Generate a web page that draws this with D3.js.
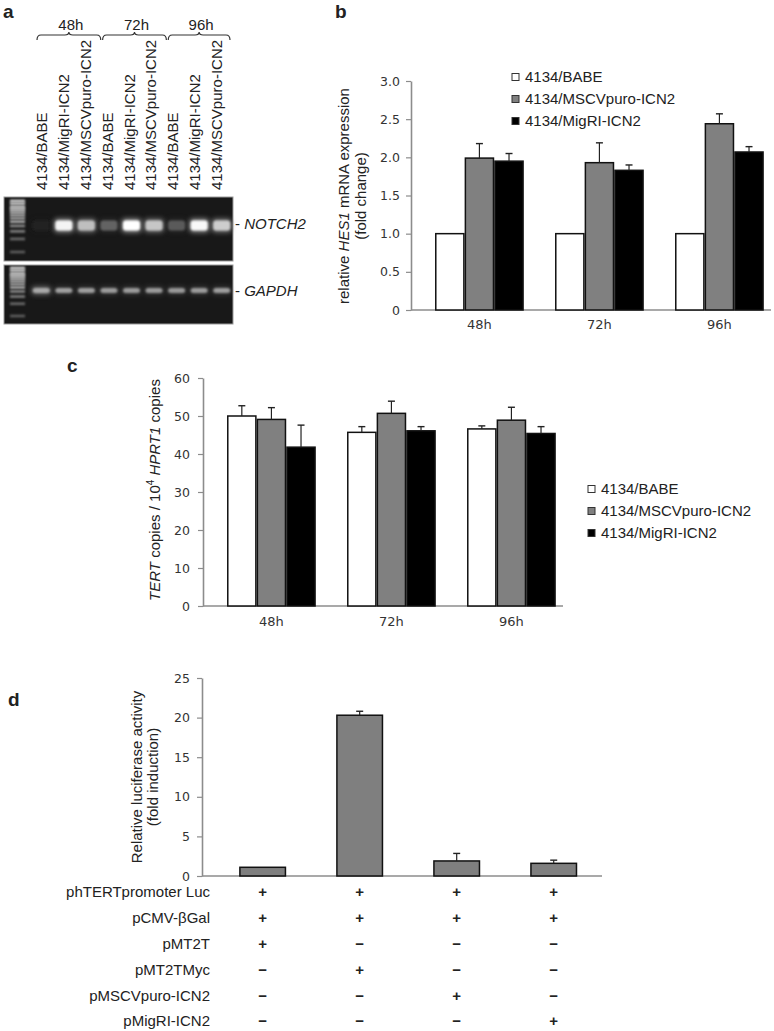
<!DOCTYPE html>
<html><head><meta charset="utf-8">
<script src="https://cdn.jsdelivr.net/npm/d3@7"></script>
<style>
body{margin:0;background:#fff;}
svg{display:block;}
text{font-family:"Liberation Sans",Arial,sans-serif;fill:#222;}
.tick text{font-family:"DejaVu Sans",Verdana,sans-serif;font-size:12.5px;fill:#333;}
.xcat .tick text{font-size:13px;}
</style></head><body>
<script>
// ---------- DATA ----------
// Panel a (gel)
const laneLabels = ["4134/BABE","4134/MigRI-ICN2","4134/MSCVpuro-ICN2","4134/BABE","4134/MigRI-ICN2","4134/MSCVpuro-ICN2","4134/BABE","4134/MigRI-ICN2","4134/MSCVpuro-ICN2"];
const laneTimes = ["48h","72h","96h"];
const notch2Intensity = [0.03,0.95,0.72,0.32,1.0,0.75,0.28,0.97,0.78];
const gapdhIntensity = [0.62,0.58,0.57,0.56,0.56,0.56,0.55,0.56,0.57];
const ladderBp = [1500,1300,1100,1000,900,800,700,600,500,400,300,200,100];
const ladderIntensity = [0.85,0.8,0.78,0.72,0.7,0.65,0.62,0.6,0.66,0.5,0.45,0.35,0.3];
const notch2AmpliconBp = 410;
const gapdhAmpliconBp = 420;

// Panels b and c
const times = ["48h","72h","96h"];
const seriesNames = ["4134/BABE","4134/MSCVpuro-ICN2","4134/MigRI-ICN2"];
const seriesColors = ["#ffffff","#808080","#000000"];
const hesBabe = [1.0,1.0,1.0];
const hesBabeErr = [0,0,0];
const hesMscv = [1.99,1.93,2.44];
const hesMscvErr = [0.19,0.26,0.13];
const hesMigri = [1.95,1.83,2.07];
const hesMigriErr = [0.10,0.07,0.07];
const hesTicks = [0,0.5,1.0,1.5,2.0,2.5,3.0];

const tertBabe = [50.0,45.7,46.6];
const tertBabeErr = [2.7,1.5,0.8];
const tertMscv = [49.1,50.7,48.9];
const tertMscvErr = [3.1,3.2,3.4];
const tertMigri = [41.8,46.1,45.4];
const tertMigriErr = [5.8,1.1,1.8];
const tertTicks = [0,10,20,30,40,50,60];

// Panel d
const conditions = ["c1","c2","c3","c4"];
const lucValues = [1.1,20.3,1.9,1.6];
const lucErr = [0,0.5,0.95,0.4];
const lucTicks = [0,5,10,15,20,25];
const tableRows = ["phTERTpromoter Luc","pCMV-\u03B2Gal","pMT2T","pMT2TMyc","pMSCVpuro-ICN2","pMigRI-ICN2"];
const tableMarks = [
  ["+","+","+","+"],
  ["+","+","+","+"],
  ["+","\u2212","\u2212","\u2212"],
  ["\u2212","+","\u2212","\u2212"],
  ["\u2212","\u2212","+","\u2212"],
  ["\u2212","\u2212","\u2212","+"]
];

// ---------- DRAW ----------
const svg = d3.select("body").append("svg").attr("width",774).attr("height",1031);
const defs = svg.append("defs");
defs.append("filter").attr("id","blur").attr("x","-50%").attr("y","-100%").attr("width","200%").attr("height","300%")
  .append("feGaussianBlur").attr("stdDeviation",1.1);
defs.append("filter").attr("id","glow").attr("x","-50%").attr("y","-100%").attr("width","200%").attr("height","300%")
  .append("feGaussianBlur").attr("stdDeviation",2.6);

function panelLabel(t,x,y){
  svg.append("text").attr("x",x).attr("y",y).attr("font-size",19).attr("font-weight","bold").attr("fill","#000").text(t);
}
panelLabel("a",3,18);
panelLabel("b",335,18);
panelLabel("c",67,372);
panelLabel("d",8,706);

// ---- Panel a ----
const ga = svg.append("g");
const labelX = d3.scalePoint().domain(d3.range(laneLabels.length)).range([42,217]);
ga.selectAll("text.lane").data(laneLabels).join("text").attr("class","lane")
  .attr("transform",(d,i)=>`translate(${labelX(i)+5},190) rotate(-90)`)
  .attr("font-size",15).text(d=>d);

laneTimes.forEach((t,i)=>{
  const xs = labelX(3*i)-5, xe = Math.min(labelX(3*i+2)+15,230);
  const yb = 35, mid=(xs+xe)/2;
  const p = `M${xs},${yb+5} Q${xs},${yb} ${xs+4},${yb} L${mid-4},${yb} Q${mid},${yb} ${mid},${yb-3} Q${mid},${yb} ${mid+4},${yb} L${xe-4},${yb} Q${xe},${yb} ${xe},${yb+5}`;
  ga.append("path").attr("d",p).attr("fill","none").attr("stroke","#333").attr("stroke-width",1.2);
  ga.append("text").attr("x",mid+2).attr("y",30).attr("text-anchor","middle").attr("font-size",15).text(t);
});

const laneScale = d3.scaleBand().domain(d3.range(laneLabels.length)).range([30,233]);
const gels = [
  {name:"NOTCH2", y:197, h:64, intens:notch2Intensity, bp:notch2AmpliconBp, bandH:10, lad:[201,252], textY:229},
  {name:"GAPDH",  y:265, h:59, intens:gapdhIntensity, bp:gapdhAmpliconBp, bandH:5, lad:[268,316], textY:296}
];
const bandColor = d3.interpolateRgb("#1a1a1a","#ffffff");
gels.forEach(gel=>{
  const gg = ga.append("g");
  gg.append("rect").attr("x",4).attr("y",gel.y).attr("width",229).attr("height",gel.h)
    .attr("fill","#181818").attr("stroke","#9a9a9a").attr("stroke-width",1);
  const ly = d3.scaleLog().domain([1500,100]).range(gel.lad);
  gg.selectAll("rect.lad").data(ladderBp).join("rect").attr("class","lad")
    .attr("x",10).attr("width",15).attr("y",d=>ly(d)-1.3).attr("height",2.6)
    .attr("fill",(d,i)=>bandColor(ladderIntensity[i])).attr("filter","url(#blur)");
  const by = ly(gel.bp);
  gg.selectAll("rect.glow").data(gel.intens).join("rect").attr("class","glow")
    .attr("x",(d,i)=>laneScale(i)+laneScale.bandwidth()/2-10).attr("width",20)
    .attr("y",by-gel.bandH/2-2).attr("height",gel.bandH+4).attr("rx",4)
    .attr("fill",d=>bandColor(d*0.7)).attr("opacity",d=>d>0.6?0.7:0.3).attr("filter","url(#glow)");
  gg.selectAll("rect.band").data(gel.intens).join("rect").attr("class","band")
    .attr("x",(d,i)=>laneScale(i)+laneScale.bandwidth()/2-8.5).attr("width",17)
    .attr("y",by-gel.bandH/2).attr("height",gel.bandH).attr("rx",3)
    .attr("fill",d=>bandColor(d)).attr("filter","url(#blur)");
  const tx = ga.append("text").attr("x",235).attr("y",gel.textY).attr("font-size",15);
  tx.append("tspan").text("- ");
  tx.append("tspan").attr("font-style","italic").text(gel.name);
});

// ---- grouped bar chart helper ----
function drawChart(o){
  const g = svg.append("g");
  const y = d3.scaleLinear().domain(o.yDomain).range([o.yBottom,o.yTop]);
  const x0 = d3.scaleBand().domain(o.cats).range([o.xa,o.xb]).paddingInner(o.pi).paddingOuter(o.po).align(o.align);
  const x1 = d3.scaleBand().domain(o.series).range([0,x0.bandwidth()]);
  const ya = g.append("g").attr("transform",`translate(${o.xa},0)`)
    .call(d3.axisLeft(y).tickValues(o.ticks).tickSize(5).tickSizeOuter(0).tickPadding(o.tp).tickFormat(o.fmt));
  ya.select(".domain").attr("stroke","#8c8c8c").attr("stroke-width",1.6);
  ya.selectAll(".tick line").attr("stroke","#8c8c8c").attr("stroke-width",1.2);
  g.append("line").attr("x1",o.xa).attr("x2",o.xb).attr("y1",y(0)).attr("y2",y(0))
    .attr("stroke","#8c8c8c").attr("stroke-width",1.6);
  if(o.showCats){
    const xa = g.append("g").attr("class","xcat").attr("transform",`translate(0,${y(0)})`)
      .call(d3.axisBottom(x0).tickSize(0).tickPadding(o.catPad));
    xa.select(".domain").remove();
  }
  o.series.forEach((s,si)=>{
    const vals=o.values[si], errs=o.errors[si];
    const bg = g.append("g");
    bg.selectAll("rect").data(vals).join("rect")
      .attr("x",(d,i)=>x0(o.cats[i])+x1(s)+0.75).attr("width",x1.bandwidth()-1.5)
      .attr("y",d=>y(d)).attr("height",d=>y(0)-y(d))
      .attr("fill",o.colors[si]).attr("stroke","#111").attr("stroke-width",1.5);
    const eg = g.append("g");
    vals.forEach((d,i)=>{
      if(!errs[i]) return;
      const cx = x0(o.cats[i])+x1(s)+x1.bandwidth()/2;
      eg.append("line").attr("x1",cx).attr("x2",cx).attr("y1",y(d)).attr("y2",y(d+errs[i])).attr("stroke","#222").attr("stroke-width",1.2);
      eg.append("line").attr("x1",cx-3.5).attr("x2",cx+3.5).attr("y1",y(d+errs[i])).attr("y2",y(d+errs[i])).attr("stroke","#222").attr("stroke-width",1.4);
    });
  });
  return {g,x0,x1,y};
}

function yLabel(lines,x,y,italicParts){
  const t = svg.append("text").attr("transform",`translate(${x},${y}) rotate(-90)`).attr("text-anchor","middle").attr("font-size",15);
  return t;
}

function legend(x,ys){
  const lg = svg.append("g");
  seriesNames.forEach((s,i)=>{
    lg.append("rect").attr("x",x).attr("y",ys[i]-3.5).attr("width",7).attr("height",7)
      .attr("fill",seriesColors[i]).attr("stroke","#333").attr("stroke-width",1);
    lg.append("text").attr("x",x+13).attr("y",ys[i]).attr("dy","0.36em").attr("font-size",15).text(s);
  });
}

// ---- Panel b ----
drawChart({
  yDomain:[0,3], yBottom:310, yTop:81, xa:411, xb:771, pi:0.26, po:0.13, align:0.77,
  cats:times, series:seriesNames, colors:seriesColors,
  values:[hesBabe,hesMscv,hesMigri], errors:[hesBabeErr,hesMscvErr,hesMigriErr],
  ticks:hesTicks, tp:6, fmt:d=>d===0?"0":d3.format(".1f")(d), showCats:true, catPad:10
});
{
  const t1 = svg.append("text").attr("transform","translate(349,196) rotate(-90)").attr("text-anchor","middle").attr("font-size",15);
  t1.append("tspan").text("relative ");
  t1.append("tspan").attr("font-style","italic").text("HES1");
  t1.append("tspan").text(" mRNA expression");
  svg.append("text").attr("transform","translate(366,196) rotate(-90)").attr("text-anchor","middle").attr("font-size",15).text("(fold change)");
}
legend(512,[77,99,121]);

// ---- Panel c ----
drawChart({
  yDomain:[0,60], yBottom:606, yTop:378, xa:203, xb:563, pi:0.26, po:0.13, align:0.77,
  cats:times, series:seriesNames, colors:seriesColors,
  values:[tertBabe,tertMscv,tertMigri], errors:[tertBabeErr,tertMscvErr,tertMigriErr],
  ticks:tertTicks, tp:8, fmt:d3.format("d"), showCats:true, catPad:11
});
{
  const t = svg.append("text").attr("transform","translate(160,490) rotate(-90)").attr("text-anchor","middle").attr("font-size",15);
  t.append("tspan").attr("font-style","italic").text("TERT");
  t.append("tspan").text(" copies / 10");
  t.append("tspan").attr("font-size",10).attr("dy",-6).text("4");
  t.append("tspan").attr("dy",6).text(" ");
  t.append("tspan").attr("font-style","italic").text("HPRT1");
  t.append("tspan").text(" copies");
}
legend(588,[489,511,533]);

// ---- Panel d ----
const dc = drawChart({
  yDomain:[0,25], yBottom:876, yTop:678, xa:202, xb:602, pi:0.515, po:0.319, align:0.6,
  cats:conditions, series:["luc"], colors:["#7f7f7f"],
  values:[lucValues], errors:[lucErr],
  ticks:lucTicks, tp:7, fmt:d3.format("d"), showCats:false
});
svg.append("text").attr("transform","translate(142,777) rotate(-90)").attr("text-anchor","middle").attr("font-size",15).text("Relative luciferase activity");
svg.append("text").attr("transform","translate(158,777) rotate(-90)").attr("text-anchor","middle").attr("font-size",15).text("(fold induction)");

const rowY = d3.scalePoint().domain(tableRows).range([892,1021]);
const tg = svg.append("g");
tg.selectAll("text.row").data(tableRows).join("text").attr("class","row")
  .attr("x",210).attr("y",d=>rowY(d)).attr("dy","0.36em").attr("text-anchor","end").attr("font-size",15)
  .text(d=>d);
tableMarks.forEach((row,ri)=>{
  row.forEach((m,ci)=>{
    tg.append("text").attr("x",dc.x0(conditions[ci])+dc.x0.bandwidth()/2).attr("y",rowY(tableRows[ri]))
      .attr("dy","0.36em").attr("text-anchor","middle").attr("font-size",15).attr("font-weight","bold").attr("fill","#333").text(m);
  });
});
</script>
</body></html>
